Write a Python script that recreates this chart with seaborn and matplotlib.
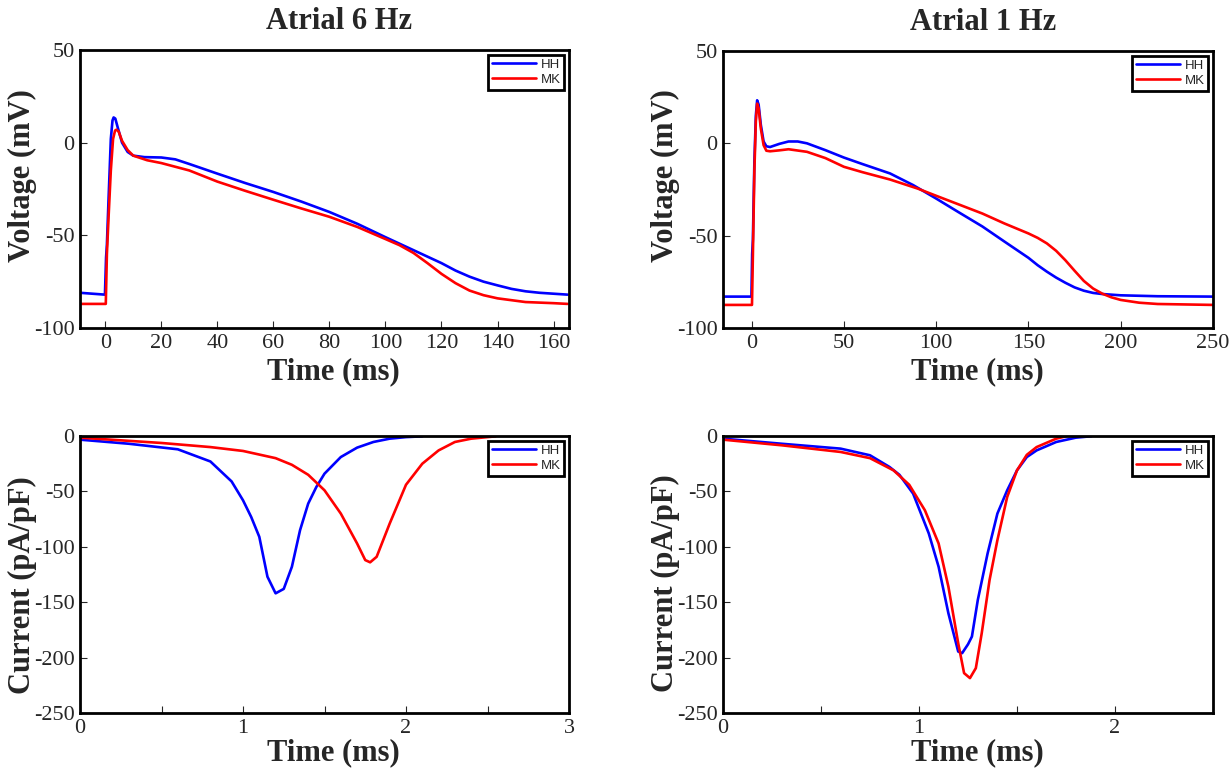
import numpy as np
import pandas as pd
import matplotlib
matplotlib.use("Agg")
import matplotlib.pyplot as plt
import seaborn as sns

# ---------------- data ----------------
# Atrial 6 Hz action potential
ap6_t_hh = [-9, -0.1, 0.3, 0.6, 1.2, 2.0, 2.6, 3.0, 3.6, 4.5, 6, 8, 10, 14, 20, 25, 30, 40, 50, 60, 70, 80, 90, 100, 110, 115, 120, 125, 130, 135, 140, 145, 150, 155, 160, 165]
ap6_v_hh = [-81, -82, -62, -55, -30, 2, 12, 13.6, 13, 8, 0, -5, -7, -7.8, -8, -9, -11.5, -16.7, -21.8, -26.6, -31.8, -37.4, -43.8, -51, -58, -61.5, -65, -69, -72.3, -75, -77, -78.9, -80.2, -81, -81.5, -82]
ap6_t_mk = [-9, 0.2, 0.6, 1.2, 2.0, 2.8, 3.5, 4.0, 4.8, 6, 8, 10, 15, 20, 30, 40, 50, 60, 70, 80, 90, 100, 105, 110, 115, 120, 125, 130, 135, 140, 150, 160, 165]
ap6_v_mk = [-87, -87, -60, -40, -15, 2, 6.5, 7, 6, 1, -4, -7, -9.5, -11, -15, -21, -26, -30.8, -35.5, -40, -45.5, -52, -55.3, -59.5, -65, -70.8, -75.8, -79.8, -82.3, -84, -86, -86.6, -87]

# Atrial 1 Hz action potential
ap1_t_hh = [-15, -0.1, 0.3, 0.7, 1.5, 2.3, 3.0, 3.8, 5, 6.5, 8, 10, 15, 20, 25, 30, 40, 50, 60, 75, 87.5, 100, 112, 125, 137, 150, 155, 160, 165, 170, 175, 180, 185, 190, 200, 220, 250]
ap1_v_hh = [-83, -83, -60, -52, -10, 15, 23.3, 21, 10, 1, -1.6, -2, -0.3, 1, 1, 0, -3.7, -7.7, -11.2, -16.3, -22.6, -29.9, -37.2, -45, -53.2, -62, -66, -69.5, -72.7, -75.5, -78, -79.8, -81, -81.6, -82.3, -82.8, -83]
ap1_t_mk = [-15, 0.2, 0.7, 1.5, 2.3, 3.0, 3.8, 5, 6.5, 8, 10, 15, 20, 30, 40, 50, 60, 75, 90, 100, 112, 125, 137, 150, 155, 160, 165, 170, 175, 180, 185, 190, 195, 200, 210, 220, 250]
ap1_v_mk = [-87.5, -87.5, -60, -15, 12, 21.5, 19, 8, -1, -4, -4.3, -3.8, -3.2, -4.6, -8, -12.7, -15.6, -19.6, -24.5, -28.4, -33, -38, -43.4, -48.8, -51.2, -54.2, -58.2, -63.3, -69, -74.5, -78.6, -81.4, -83.4, -84.8, -86.3, -87, -87.5]

# Atrial 6 Hz sodium current
ina6_t_hh = [0, 0.3, 0.6, 0.8, 0.93, 1.0, 1.05, 1.1, 1.15, 1.2, 1.25, 1.3, 1.35, 1.4, 1.45, 1.5, 1.6, 1.7, 1.8, 1.9, 2.0, 2.1]
ina6_i_hh = [-3.3, -7, -12, -23, -41, -58, -73, -91, -127, -142, -138, -118, -85, -61, -46, -34, -19, -10.5, -5.4, -2.4, -1, -0.3]
ina6_t_mk = [0, 0.5, 0.8, 1.0, 1.2, 1.3, 1.4, 1.5, 1.6, 1.7, 1.75, 1.78, 1.82, 1.9, 2.0, 2.1, 2.2, 2.3, 2.4, 2.5, 2.55]
ina6_i_mk = [-1.5, -6.3, -10, -13.5, -20, -26, -35, -49, -70, -97, -112, -114, -109, -79, -44, -25, -13, -5.4, -2.4, -1, -0.3]

# Atrial 1 Hz sodium current
ina1_t_hh = [0, 0.3, 0.6, 0.75, 0.85, 0.9, 0.97, 1.05, 1.1, 1.15, 1.2, 1.22, 1.25, 1.27, 1.3, 1.35, 1.4, 1.45, 1.5, 1.55, 1.6, 1.7, 1.8, 1.88]
ina1_i_hh = [-2.4, -7, -11.4, -17.4, -28, -35, -52, -88, -118, -160, -194.5, -196, -188, -181, -148, -106, -70, -49, -31, -19, -13, -5.4, -1.5, -0.2]
ina1_t_mk = [0, 0.3, 0.6, 0.75, 0.87, 0.95, 1.03, 1.1, 1.15, 1.2, 1.23, 1.26, 1.29, 1.32, 1.36, 1.4, 1.45, 1.5, 1.55, 1.6, 1.7, 1.75]
ina1_i_mk = [-3.3, -8.4, -14.4, -20, -31, -44, -67, -97, -136, -187, -214, -218.5, -209.5, -178, -130, -94, -55, -31, -17, -10, -2.4, -0.3]

models = ["HH", "MK"]
titles = ["Atrial 6 Hz", "Atrial 1 Hz"]
volt_ticks = [-100, -50, 0, 50]
cur_ticks = [-250, -200, -150, -100, -50, 0]
ap6_xticks = [0, 20, 40, 60, 80, 100, 120, 140, 160]
ap1_xticks = [0, 50, 100, 150, 200, 250]
ina6_xticks = [0, 1, 2, 3]
ina1_xticks = [0, 1, 2]


def frame(t_hh, y_hh, t_mk, y_mk):
    return pd.DataFrame({
        "t": list(t_hh) + list(t_mk),
        "y": list(y_hh) + list(y_mk),
        "model": ["HH"] * len(t_hh) + ["MK"] * len(t_mk),
    })


# ---------------- style ----------------
sns.set_theme(style="white")
plt.rcParams["font.family"] = ["Liberation Serif", "DejaVu Serif"]
plt.rcParams["axes.unicode_minus"] = False
plt.rcParams["axes.linewidth"] = 2.0
plt.rcParams["axes.edgecolor"] = "black"
plt.rcParams["xtick.direction"] = "in"
plt.rcParams["ytick.direction"] = "in"

palette = {"HH": "#0000ff", "MK": "#ff0000"}

fig = plt.figure(figsize=(12.29, 7.74), dpi=100)
W, H = 1229, 774
def axpos(l, t, r, b):
    return [l / W, 1 - b / H, (r - l) / W, (b - t) / H]

ax_tl = fig.add_axes(axpos(80, 50, 569, 328))
ax_tr = fig.add_axes(axpos(723, 51, 1213, 328))
ax_bl = fig.add_axes(axpos(80, 436, 569, 713))
ax_br = fig.add_axes(axpos(723, 436, 1213, 713))

panels = [
    (ax_tl, frame(ap6_t_hh, ap6_v_hh, ap6_t_mk, ap6_v_mk), (-9, 165.5), (-100, 50), ap6_xticks, volt_ticks, "Voltage (mV)", titles[0], None, 0.55, -0.105),
    (ax_tr, frame(ap1_t_hh, ap1_v_hh, ap1_t_mk, ap1_v_mk), (-15.5, 250), (-100, 50), ap1_xticks, volt_ticks, "Voltage (mV)", titles[1], None, 0.55, -0.105),
    (ax_bl, frame(ina6_t_hh, ina6_i_hh, ina6_t_mk, ina6_i_mk), (0, 3), (-250, 0), ina6_xticks, cur_ticks, "Current (pA/pF)", None, 0.5, 0.46, -0.09),
    (ax_br, frame(ina1_t_hh, ina1_i_hh, ina1_t_mk, ina1_i_mk), (0, 2.5), (-250, 0), ina1_xticks, cur_ticks, "Current (pA/pF)", None, 0.5, 0.47, -0.09),
]

for ax, df, xl, yl, xt, yt, ylab, title, minor, ylab_y, xlab_y in panels:
    sns.lineplot(data=df, x="t", y="y", hue="model", hue_order=models,
                 palette=palette, estimator=None, sort=False, linewidth=1.9,
                 ax=ax, clip_on=True)
    ax.set_xlim(*xl)
    ax.set_ylim(*yl)
    ax.set_xticks(xt)
    ax.set_yticks(yt)
    if minor:
        ax.set_xticks(np.arange(xl[0], xl[1] + 1e-9, minor), minor=True)
        ax.tick_params(axis="x", which="minor", direction="in", length=5, width=0.8, bottom=True)
    ax.tick_params(axis="both", which="major", direction="in", length=5, width=0.8,
                   labelsize=16, pad=4, bottom=True, left=True)
    ax.set_xlabel("Time (ms)", fontsize=22, fontweight="bold")
    ax.xaxis.set_label_coords(0.519, xlab_y)
    ax.set_ylabel(ylab, fontsize=22, fontweight="bold")
    ax.yaxis.set_label_coords(-0.088, ylab_y)
    for sp in ax.spines.values():
        sp.set_linewidth(2.0)
        sp.set_color("black")
    if title:
        ax.set_title(title, fontsize=22, fontweight="bold", x=0.53, pad=15)
    handles, labels = ax.get_legend_handles_labels()
    leg = ax.legend(handles, labels, loc="upper right",
                    prop={"family": "Liberation Sans", "size": 9.5},
                    frameon=True, fancybox=False, borderpad=0.3,
                    handlelength=3.4, handletextpad=0.3, labelspacing=0.2,
                    borderaxespad=0.35)
    leg.get_frame().set_edgecolor("black")
    leg.get_frame().set_linewidth(2.0)
    leg.get_frame().set_alpha(1)

fig.savefig("out.png", dpi=100)
